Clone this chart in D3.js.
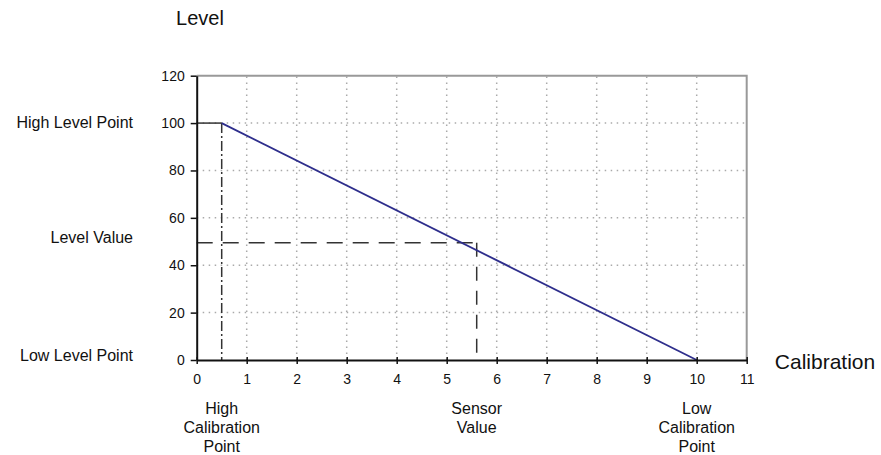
<!DOCTYPE html>
<html><head><meta charset="utf-8">
<script src="https://cdn.jsdelivr.net/npm/d3@7"></script>
<style>body{margin:0;background:#fff}svg{display:block;font-family:Arial,"Liberation Sans",sans-serif}</style>
</head><body><svg id="c" width="881" height="455"></svg>
<script>
const xTicks = [0,1,2,3,4,5,6,7,8,9,10,11];
const yTicks = [0,20,40,60,80,100,120];
const lineX = [0.5, 10];
const lineY = [100, 0];
const sensorValue = 5.6;
const levelValue = 49.5;
const highCal = 0.5;
const highLevel = 100;
const yLabels = [{t:"High Level Point", v:100},{t:"Level Value", v:levelValue},{t:"Low Level Point", v:0}];
const xLabels = [{t:["High","Calibration","Point"], v:0.5},{t:["Sensor","Value"], v:sensorValue},{t:["Low","Calibration","Point"], v:10}];

const svg = d3.select("#c");
const x = d3.scaleLinear().domain([0,11]).range([196.7,746.7]);
const y = d3.scaleLinear().domain([0,120]).range([360,75.7]);

// grid
const g = svg.append("g");
g.selectAll(".gx").data(xTicks.slice(1,-1)).join("line")
 .attr("x1",d=>x(d)).attr("x2",d=>x(d)).attr("y1",y(0)).attr("y2",y(120))
 .attr("stroke","#aaa").attr("stroke-width",1.5).attr("stroke-dasharray","1.5,4.5");
g.selectAll(".gy").data(yTicks.slice(1,-1)).join("line")
 .attr("x1",x(0)).attr("x2",x(11)).attr("y1",d=>y(d)).attr("y2",d=>y(d))
 .attr("stroke","#aaa").attr("stroke-width",1.5).attr("stroke-dasharray","1.5,4.5");

// border top/right
svg.append("path").attr("d",`M${x(0)},${y(120)}H${x(11)}V${y(0)}`)
 .attr("fill","none").attr("stroke","#999").attr("stroke-width",2);

// reference lines
svg.append("line").attr("x1",x(0)).attr("x2",x(highCal)).attr("y1",y(highLevel)).attr("y2",y(highLevel))
 .attr("stroke","#333").attr("stroke-width",1.5);
svg.append("line").attr("x1",x(highCal)).attr("x2",x(highCal)).attr("y1",y(highLevel)).attr("y2",y(0))
 .attr("stroke","#333").attr("stroke-width",1.5).attr("stroke-dasharray","10,3,2,3");
svg.append("line").attr("x1",x(0)).attr("x2",x(sensorValue)).attr("y1",y(levelValue)).attr("y2",y(levelValue))
 .attr("stroke","#333").attr("stroke-width",1.5).attr("stroke-dasharray","16,10");
svg.append("line").attr("x1",x(sensorValue)).attr("x2",x(sensorValue)).attr("y1",y(levelValue)).attr("y2",y(0))
 .attr("stroke","#333").attr("stroke-width",1.5).attr("stroke-dasharray","14,10");

// main line
svg.append("path").datum(lineX.map((d,i)=>[d,lineY[i]]))
 .attr("d",d3.line().x(d=>x(d[0])).y(d=>y(d[1])))
 .attr("fill","none").attr("stroke","#2e2e8c").attr("stroke-width",1.8);

// axes
const ax = svg.append("g").attr("transform",`translate(0,${y(0)})`)
 .call(d3.axisBottom(x).tickValues(xTicks).tickSize(4).tickPadding(10).tickSizeOuter(0));
ax.selectAll(".tick line").attr("y1",-3);
const ay = svg.append("g").attr("transform",`translate(${x(0)},0)`)
 .call(d3.axisLeft(y).tickValues(yTicks).tickSize(6).tickPadding(6).tickSizeOuter(0));
[ax,ay].forEach(a=>{
 a.select(".domain").attr("stroke","#111").attr("stroke-width",2);
 a.selectAll(".tick line").attr("stroke","#111").attr("stroke-width",1.5);
 a.selectAll("text").attr("font-size",14).attr("fill","#111").attr("font-family","Arial,'Liberation Sans',sans-serif");
});

// titles
svg.append("text").attr("x",200).attr("y",25).attr("text-anchor","middle").attr("font-size",20).attr("fill","#111").text("Level");
svg.append("text").attr("x",825).attr("y",369).attr("text-anchor","middle").attr("font-size",21).attr("fill","#111").text("Calibration");

const yOff = [4, -6, 2];
svg.selectAll(".yl").data(yLabels).join("text")
 .attr("x",133).attr("y",(d,i)=>[128,243,361][i]).attr("text-anchor","end").attr("font-size",16).attr("fill","#111").text(d=>d.t);

const xl = svg.selectAll(".xl").data(xLabels).join("text")
 .attr("text-anchor","middle").attr("font-size",16).attr("fill","#111");
xl.selectAll("tspan").data(d=>d.t.map(s=>({s,v:d.v}))).join("tspan")
 .attr("x",d=>x(d.v)).attr("y",(d,i)=>414+i*19).text(d=>d.s);
</script></body></html>
